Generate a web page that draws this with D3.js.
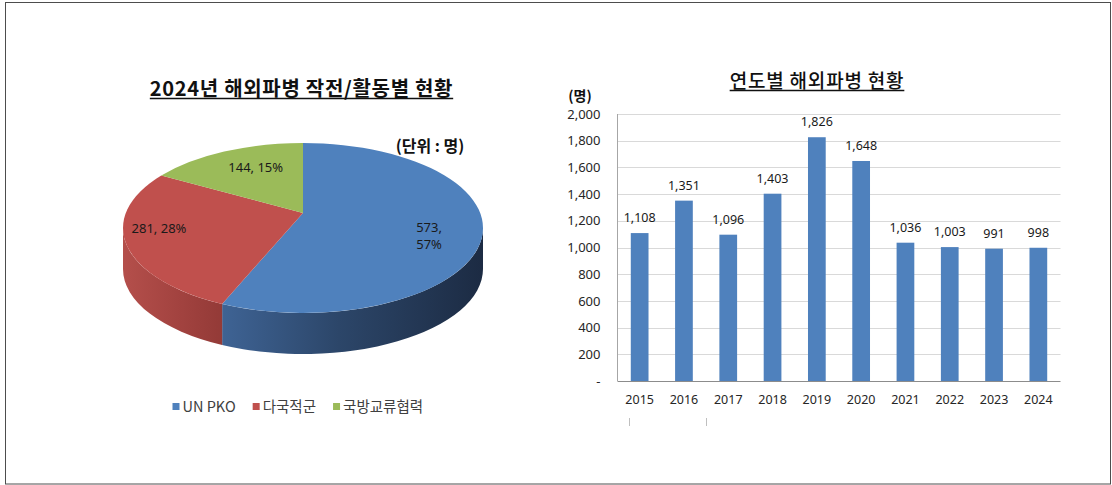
<!DOCTYPE html>
<html>
<head>
<meta charset="utf-8">
<script src="https://cdn.jsdelivr.net/npm/d3@7"></script>
<style>
  body { margin: 0; background: #fff; }
  svg { display: block; }
  .kr { font-family: "Noto Sans CJK KR", "Noto Sans", sans-serif; }
  .num { font-family: "Noto Sans", "Noto Sans CJK KR", sans-serif; }
</style>
</head>
<body>
<script>
// pie data (2024)
var pieCategories = ["UN PKO", "다국적군", "국방교류협력"];
var pieValues = [573, 281, 144];
var piePercents = [57, 28, 15];
var pieColors = ["#4f81bd", "#c0504d", "#9bbb59"];

// bar data
var years = ["2015", "2016", "2017", "2018", "2019", "2020", "2021", "2022", "2023", "2024"];
var troops = [1108, 1351, 1096, 1403, 1826, 1648, 1036, 1003, 991, 998];
var yTicks = [0, 200, 400, 600, 800, 1000, 1200, 1400, 1600, 1800, 2000];

var svg = d3.select("body").append("svg")
  .attr("width", 1112)
  .attr("height", 485);

svg.append("rect")
  .attr("x", 5.5).attr("y", 2.5)
  .attr("width", 1105).attr("height", 481.5)
  .attr("fill", "#fff")
  .attr("stroke", "#4d4d4d")
  .attr("stroke-width", 1);

// underlined title helper
function title(x, y, txt, size, weight, spacing) {
  var t = svg.append("text")
    .attr("class", "kr")
    .attr("x", x).attr("y", y)
    .attr("text-anchor", "middle")
    .attr("font-size", size)
    .attr("font-weight", weight)
    .attr("letter-spacing", spacing)
    .attr("fill", "#111")
    .text(txt);
  var w = t.node().getComputedTextLength();
  svg.append("line")
    .attr("x1", x - w / 2).attr("x2", x + w / 2)
    .attr("y1", y + 2.5).attr("y2", y + 2.5)
    .attr("stroke", "#111").attr("stroke-width", 1.3);
}

// ---------- 3D pie ----------
var pieCx = 303, pieCy = 228, pieRx = 180, pieRy = 85;
var apexY = 213, depth = 41;

function ellPt(a, dy) {
  return [pieCx + pieRx * Math.sin(a), pieCy - pieRy * Math.cos(a) + (dy || 0)];
}

var defs = svg.append("defs");
var sideStops = [
  [["0", "#5077ab"], ["0.3", "#3d6191"], ["0.6", "#2c4669"], ["1", "#1c2b43"]],
  [["0", "#b44f4b"], ["0.15", "#a34340"], ["0.35", "#8a3532"], ["1", "#5c2221"]],
  [["0", "#8aa84f"], ["1", "#5a7232"]]
];
sideStops.forEach(function(stops, i) {
  var g = defs.append("linearGradient")
    .attr("id", "side" + i)
    .attr("gradientUnits", "userSpaceOnUse")
    .attr("x1", pieCx - pieRx).attr("x2", pieCx + pieRx)
    .attr("y1", 0).attr("y2", 0);
  stops.forEach(function(s) {
    g.append("stop").attr("offset", s[0]).attr("stop-color", s[1]);
  });
});

var arcs = d3.pie().sort(null).value(function(d) { return d; })(pieValues);
var pieG = svg.append("g");

// side walls (front half only)
arcs.forEach(function(a, i) {
  var a0 = Math.max(a.startAngle, Math.PI / 2);
  var a1 = Math.min(a.endAngle, Math.PI * 1.5);
  if (a1 <= a0) return;
  var p0 = ellPt(a0), p1 = ellPt(a1), q0 = ellPt(a0, depth), q1 = ellPt(a1, depth);
  var d = "M " + p0[0] + "," + p0[1] + " ";
  d += "A " + pieRx + " " + pieRy + " 0 0 1 " + p1[0] + " " + p1[1] + " ";
  d += "L " + q1[0] + "," + q1[1] + " ";
  d += "A " + pieRx + " " + pieRy + " 0 0 0 " + q0[0] + " " + q0[1] + " ";
  d += "Z";
  pieG.append("path")
    .attr("d", d)
    .attr("fill", "url(#side" + i + ")");
});

// top faces
arcs.forEach(function(a, i) {
  var p0 = ellPt(a.startAngle), p1 = ellPt(a.endAngle);
  var large = (a.endAngle - a.startAngle) > Math.PI ? 1 : 0;
  var d = "M " + pieCx + "," + apexY + " ";
  d += "L " + p0[0] + "," + p0[1] + " ";
  d += "A " + pieRx + " " + pieRy + " 0 " + large + " 1 " + p1[0] + " " + p1[1] + " ";
  d += "Z";
  pieG.append("path")
    .attr("d", d)
    .attr("fill", pieColors[i]);
});

// data labels
var labelR = [0.72, 0.82, 0.6];
arcs.forEach(function(a, i) {
  var mid = (a.startAngle + a.endAngle) / 2;
  var lx = pieCx + labelR[i] * pieRx * Math.sin(mid);
  var ly = apexY - labelR[i] * pieRy * Math.cos(mid) + 4.5;
  var t = pieG.append("text")
    .attr("class", "num")
    .attr("x", lx).attr("y", ly)
    .attr("text-anchor", "middle")
    .attr("font-size", 13)
    .attr("fill", "#1a1a1a");
  if (i === 0) {
    t.append("tspan").attr("x", lx).text(pieValues[i] + ",");
    t.append("tspan").attr("x", lx).attr("dy", 17).text(piePercents[i] + "%");
  } else {
    t.text(pieValues[i] + ", " + piePercents[i] + "%");
  }
});

title(301.5, 96, "2024년 해외파병 작전/활동별 현황", 20, "bold", 0.7);

svg.append("text")
  .attr("class", "kr")
  .attr("x", 430).attr("y", 152)
  .attr("text-anchor", "middle")
  .attr("font-size", 16)
  .attr("font-weight", "bold")
  .attr("fill", "#111")
  .text("(단위 : 명)");

// legend
var lx = 172.5;
pieCategories.forEach(function(c, i) {
  svg.append("rect")
    .attr("x", lx).attr("y", 403)
    .attr("width", 7).attr("height", 7)
    .attr("fill", pieColors[i]);
  var t = svg.append("text")
    .attr("class", "kr")
    .attr("x", lx + 10).attr("y", 411.5)
    .attr("font-size", 14.5)
    .attr("fill", "#404040")
    .text(c);
  lx += 10 + t.node().getComputedTextLength() + 17;
});

// ---------- bar chart ----------
var plotL = 617.5, plotR = 1060.5, plotT = 114, plotB = 381;

var x = d3.scaleBand()
  .domain(years)
  .range([plotL, plotR])
  .paddingInner(0.6)
  .paddingOuter(0.3);

var y = d3.scaleLinear()
  .domain([0, 2000])
  .range([plotB, plotT]);

svg.append("g").selectAll("line")
  .data(yTicks.slice(1))
  .enter()
  .append("line")
  .attr("x1", plotL).attr("x2", plotR)
  .attr("y1", function(d) { return Math.round(y(d)) + 0.5; })
  .attr("y2", function(d) { return Math.round(y(d)) + 0.5; })
  .attr("stroke", "#d9d9d9");

var yAxis = svg.append("g")
  .attr("transform", "translate(" + plotL + ",0)")
  .call(d3.axisLeft(y)
    .tickValues(yTicks)
    .tickSize(0)
    .tickPadding(17)
    .tickFormat(function(d) { return d === 0 ? "-" : d3.format(",")(d); }));
yAxis.select(".domain").remove();
yAxis.selectAll("text")
  .attr("class", "num")
  .attr("font-size", 13)
  .attr("fill", "#262626");

svg.append("g").selectAll("rect")
  .data(troops)
  .enter()
  .append("rect")
  .attr("x", function(d, i) { return x(years[i]); })
  .attr("y", function(d) { return y(d); })
  .attr("width", x.bandwidth())
  .attr("height", function(d) { return y(0) - y(d); })
  .attr("fill", "#4f81bd");

svg.append("g").selectAll("text")
  .data(troops)
  .enter()
  .append("text")
  .attr("class", "num")
  .attr("x", function(d, i) { return x(years[i]) + x.bandwidth() / 2; })
  .attr("y", function(d) { return y(d) - 11; })
  .attr("text-anchor", "middle")
  .attr("font-size", 12.5)
  .attr("fill", "#1a1a1a")
  .text(function(d) { return d3.format(",")(d); });

// axis lines
svg.append("line")
  .attr("x1", plotL).attr("x2", plotL)
  .attr("y1", plotT).attr("y2", plotB)
  .attr("stroke", "#a6a6a6");
svg.append("line")
  .attr("x1", plotL).attr("x2", plotR)
  .attr("y1", plotB + 0.5).attr("y2", plotB + 0.5)
  .attr("stroke", "#8c8c8c");

svg.append("g").selectAll("text")
  .data(years)
  .enter()
  .append("text")
  .attr("class", "num")
  .attr("x", function(d) { return x(d) + x.bandwidth() / 2; })
  .attr("y", 403.5)
  .attr("text-anchor", "middle")
  .attr("font-size", 12.5)
  .attr("fill", "#262626")
  .text(function(d) { return d; });

// stray marks under the axis
[629.5, 706.5].forEach(function(px) {
  svg.append("line")
    .attr("x1", px).attr("x2", px)
    .attr("y1", 418).attr("y2", 426)
    .attr("stroke", "#bfbfbf");
});

title(817, 88, "연도별 해외파병 현황", 19, 500, 0.8);

svg.append("text")
  .attr("class", "kr")
  .attr("x", 580).attr("y", 101)
  .attr("text-anchor", "middle")
  .attr("font-size", 14)
  .attr("font-weight", "bold")
  .attr("fill", "#111")
  .text("(명)");
</script>
</body>
</html>
